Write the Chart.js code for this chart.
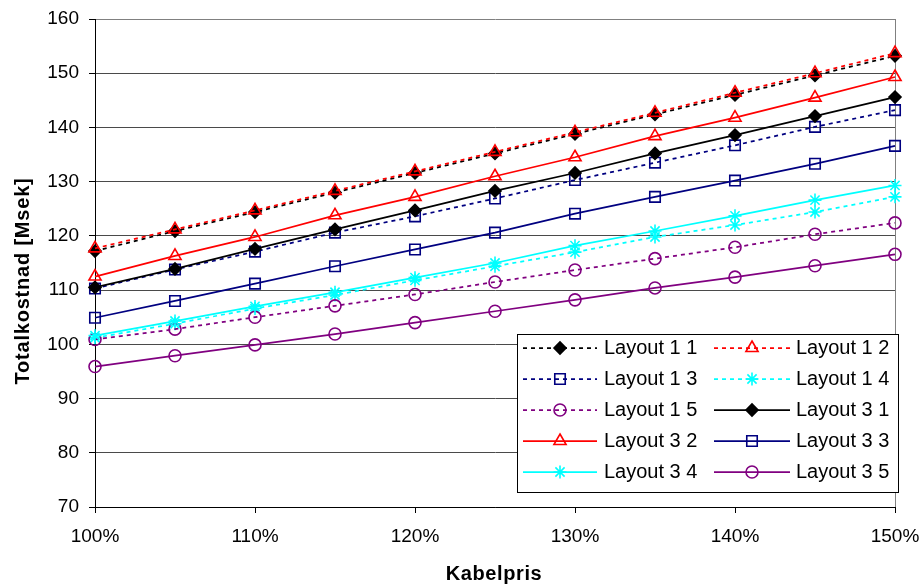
<!DOCTYPE html>
<html>
<head>
<meta charset="utf-8">
<script src="https://cdn.jsdelivr.net/npm/chart.js@4.4.1/dist/chart.umd.min.js"></script>
<style>
  html, body { margin: 0; padding: 0; background: #ffffff; }
  #wrap { position: relative; width: 924px; height: 588px; }
</style>
</head>
<body>
<div id="wrap"><canvas id="c" width="924" height="588"></canvas></div>
<script>
// Cable price (% of base) on the x axis
const kabelpris = [100, 105, 110, 115, 120, 125, 130, 135, 140, 145, 150];
const xTickValues = [100, 110, 120, 130, 140, 150];
const yTickValues = [70, 80, 90, 100, 110, 120, 130, 140, 150, 160];

const seriesNames = [
  'Layout 1 1', 'Layout 1 2', 'Layout 1 3', 'Layout 1 4', 'Layout 1 5',
  'Layout 3 1', 'Layout 3 2', 'Layout 3 3', 'Layout 3 4', 'Layout 3 5'
];

// Total cost [Msek]
const layout11 = [117.2, 120.9, 124.4, 128.0, 131.6, 135.2, 138.8, 142.4, 146.0, 149.6, 153.2];
const layout12 = [117.7, 121.2, 124.7, 128.3, 131.9, 135.5, 139.1, 142.7, 146.4, 150.0, 153.7];
const layout13 = [110.3, 113.8, 117.1, 120.6, 123.6, 126.9, 130.3, 133.5, 136.7, 140.1, 143.2];
const layout14 = [101.2, 103.8, 106.6, 109.1, 111.8, 114.4, 117.0, 119.8, 122.0, 124.4, 127.2];
const layout15 = [100.9, 102.8, 105.0, 107.1, 109.2, 111.5, 113.7, 115.8, 117.9, 120.3, 122.4];
const layout31 = [110.5, 113.9, 117.6, 121.2, 124.7, 128.3, 131.6, 135.2, 138.6, 142.1, 145.6];
const layout32 = [112.5, 116.3, 119.8, 123.8, 127.2, 131.0, 134.5, 138.4, 141.8, 145.5, 149.3];
const layout33 = [104.9, 108.0, 111.2, 114.4, 117.5, 120.6, 124.1, 127.2, 130.2, 133.3, 136.6];
const layout34 = [101.6, 104.3, 107.0, 109.6, 112.3, 115.0, 118.2, 120.9, 123.7, 126.6, 129.3];
const layout35 = [95.9, 97.9, 99.9, 101.9, 104.0, 106.1, 108.2, 110.4, 112.4, 114.5, 116.6];

const seriesValues = [layout11, layout12, layout13, layout14, layout15,
                      layout31, layout32, layout33, layout34, layout35];

const FONT = "'Liberation Sans', Arial, Helvetica, sans-serif";
const DASH = [4, 4];

// Line/marker style per series
const styles = [
  { color: '#000000', dash: DASH, point: 'rectRot',  radius: 6,   fill: '#000000' },
  { color: '#FF0000', dash: DASH, point: 'triangle', radius: 7,   fill: 'rgba(0,0,0,0)' },
  { color: '#000080', dash: DASH, point: 'rect',     radius: 7.4, fill: 'rgba(0,0,0,0)' },
  { color: '#00FFFF', dash: DASH, point: 'star',     radius: 6.5, fill: 'rgba(0,0,0,0)' },
  { color: '#800080', dash: DASH, point: 'circle',   radius: 6,   fill: 'rgba(0,0,0,0)' },
  { color: '#000000', dash: [],   point: 'rectRot',  radius: 6,   fill: '#000000' },
  { color: '#FF0000', dash: [],   point: 'triangle', radius: 7,   fill: 'rgba(0,0,0,0)' },
  { color: '#000080', dash: [],   point: 'rect',     radius: 7.4, fill: 'rgba(0,0,0,0)' },
  { color: '#00FFFF', dash: [],   point: 'star',     radius: 6.5, fill: 'rgba(0,0,0,0)' },
  { color: '#800080', dash: [],   point: 'circle',   radius: 6,   fill: 'rgba(0,0,0,0)' }
];

const datasets = seriesNames.map((name, i) => ({
  label: name,
  data: kabelpris.map((x, k) => ({ x: x, y: seriesValues[i][k] })),
  borderColor: styles[i].color,
  borderWidth: 1.75,
  borderDash: styles[i].dash,
  pointStyle: styles[i].point,
  pointRadius: styles[i].radius,
  pointBackgroundColor: styles[i].fill,
  pointBorderColor: styles[i].color,
  pointBorderWidth: 1.6,
  tension: 0,
  clip: false,
  order: seriesNames.length - i
}));

// Boxed two-column legend inside the plot
const boxLegend = {
  id: 'boxLegend',
  afterDraw(chart) {
    const ctx = chart.ctx;
    ctx.save();
    ctx.fillStyle = '#ffffff';
    ctx.fillRect(517.5, 334.5, 381, 158);
    ctx.strokeStyle = '#000000';
    ctx.lineWidth = 1;
    ctx.strokeRect(517.5, 334.5, 381, 158);
    const cols = [
      { x0: 523, x1: 597, mx: 560, tx: 604 },
      { x0: 714, x1: 790, mx: 752, tx: 796 }
    ];
    chart.data.datasets.forEach((ds, i) => {
      const c = cols[i % 2];
      const y = 348 + Math.floor(i / 2) * 31;
      ctx.save();
      ctx.strokeStyle = ds.borderColor;
      ctx.lineWidth = ds.borderWidth;
      ctx.setLineDash(ds.borderDash);
      ctx.beginPath();
      ctx.moveTo(c.x0, y);
      ctx.lineTo(c.x1, y);
      ctx.stroke();
      ctx.setLineDash([]);
      ctx.fillStyle = ds.pointBackgroundColor;
      ctx.strokeStyle = ds.pointBorderColor;
      ctx.lineWidth = ds.pointBorderWidth;
      Chart.helpers.drawPoint(ctx, {
        pointStyle: ds.pointStyle, rotation: 0,
        radius: ds.pointRadius, borderWidth: ds.pointBorderWidth
      }, c.mx, y);
      ctx.restore();
      ctx.fillStyle = '#000000';
      ctx.font = '20px ' + FONT;
      ctx.textAlign = 'left';
      ctx.textBaseline = 'middle';
      ctx.fillText(ds.label, c.tx, y);
    });
    ctx.restore();
  }
};

// Axis titles
const axisTitles = {
  id: 'axisTitles',
  afterDraw(chart) {
    const ctx = chart.ctx;
    ctx.save();
    ctx.fillStyle = '#000000';
    ctx.font = 'bold 20px ' + FONT;
    ctx.letterSpacing = '0.6px';
    ctx.textAlign = 'center';
    ctx.textBaseline = 'alphabetic';
    ctx.fillText('Kabelpris', 494, 579.5);
    ctx.translate(29, 281);
    ctx.rotate(-Math.PI / 2);
    ctx.letterSpacing = '0.8px';
    ctx.fillText('Totalkostnad [Msek]', 0, 0);
    ctx.restore();
  }
};

function noScalePadding(scale) {
  scale.paddingLeft = 0;
  scale.paddingRight = 0;
  scale.paddingTop = 0;
  scale.paddingBottom = 0;
}

new Chart(document.getElementById('c'), {
  type: 'line',
  data: { datasets: datasets },
  plugins: [boxLegend, axisTitles],
  options: {
    responsive: false,
    animation: false,
    events: [],
    layout: { padding: { top: 19, right: 29, left: 0, bottom: 0 } },
    plugins: { legend: { display: false }, tooltip: { enabled: false } },
    scales: {
      x: {
        type: 'linear',
        min: 100, max: 150,
        afterFit(scale) { scale.height = 81; noScalePadding(scale); },
        afterBuildTicks(scale) { scale.ticks = xTickValues.map(v => ({ value: v })); },
        ticks: {
          padding: 12,
          color: '#000000',
          font: { family: FONT, size: 19 },
          maxRotation: 0,
          callback: v => v + '%'
        },
        grid: {
          drawOnChartArea: true,
          color: ctx => (ctx.tick && ctx.tick.value === 150) ? '#808080' : 'rgba(0,0,0,0)',
          tickColor: '#000000',
          tickLength: 6,
          lineWidth: 1
        },
        border: { display: true, color: '#000000', width: 1 }
      },
      y: {
        min: 70, max: 160,
        afterFit(scale) { scale.width = 95; noScalePadding(scale); },
        afterBuildTicks(scale) { scale.ticks = yTickValues.map(v => ({ value: v })); },
        ticks: {
          padding: 10,
          color: '#000000',
          font: { family: FONT, size: 19 }
        },
        grid: {
          color: ctx => (ctx.tick && ctx.tick.value === 160) ? '#808080' : '#4a4a4a',
          tickColor: '#000000',
          tickLength: 6,
          lineWidth: 1
        },
        border: { display: true, color: '#000000', width: 1 }
      }
    }
  }
});
</script>
</body>
</html>
